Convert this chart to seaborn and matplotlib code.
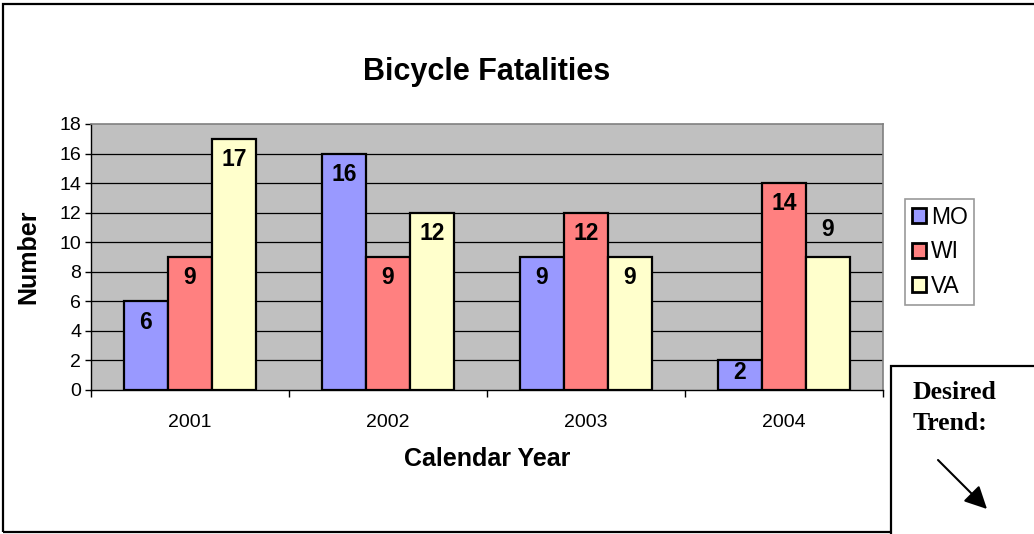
import numpy as np
import pandas as pd
import matplotlib
matplotlib.use("Agg")
import matplotlib.pyplot as plt
import seaborn as sns
from matplotlib.patches import Rectangle, FancyArrowPatch

years  = ["2001", "2002", "2003", "2004"]
states = ["MO", "WI", "VA"]
mo     = [6, 16, 9, 2]
wi     = [9, 9, 12, 14]
va     = [17, 12, 9, 9]
colors = ["#9999FF", "#FF8080", "#FFFFCC"]
y_ticks = list(range(0, 19, 2))

df = pd.DataFrame({
    "year":   years * 3,
    "state":  ["MO"] * 4 + ["WI"] * 4 + ["VA"] * 4,
    "number": mo + wi + va,
})

sns.set_theme(style="white")
plt.rcParams["font.family"] = ["Liberation Sans", "DejaVu Sans"]
plt.rcParams["text.color"] = "black"
plt.rcParams["axes.labelcolor"] = "black"
plt.rcParams["xtick.color"] = "black"
plt.rcParams["ytick.color"] = "black"

W, H = 1034, 534
fig = plt.figure(figsize=(W / 100, H / 100), dpi=100)
ax = fig.add_axes([91 / W, 1 - 390 / H, (883 - 91) / W, (390 - 124) / H])
ax.set_facecolor("#C0C0C0")

sns.barplot(data=df, x="year", y="number", hue="state",
            order=years, hue_order=states, palette=colors,
            width=0.667, edgecolor="black", linewidth=1.6,
            saturation=1, legend=False, ax=ax, zorder=3)

ax.set_ylim(0, 18)
ax.set_xlim(-0.5, 3.5)
ax.set_yticks(y_ticks)
for v in y_ticks[1:-1]:
    ax.axhline(v, color="black", lw=0.9, zorder=1)

# value labels
outside = {("2004", "VA")}
for container, st in zip(ax.containers, states):
    for bar, yr in zip(container, years):
        h = bar.get_height()
        cx = bar.get_x() + bar.get_width() / 2
        if (yr, st) in outside:
            off = 19.5
        elif h < 3:
            off = -8.5
        else:
            off = -15
        ax.annotate(f"{h:.0f}", (cx, h), xytext=(0, off), textcoords="offset points",
                    ha="center", va="center", fontsize=16.5, fontweight="bold", zorder=5)

# spines / ticks
for s in ["top", "right"]:
    ax.spines[s].set_color("#808080")
    ax.spines[s].set_linewidth(1.2)
for s in ["left", "bottom"]:
    ax.spines[s].set_color("black")
    ax.spines[s].set_linewidth(1.0)
ax.tick_params(axis="y", length=4, width=1, direction="out", pad=3,
               labelsize=14, left=True)
ax.tick_params(axis="x", which="major", length=0, pad=17, labelsize=14)
ax.set_xticks(np.arange(-0.5, 4, 1), minor=True)
ax.tick_params(axis="x", which="minor", length=5, width=1, direction="out",
               bottom=True)

ax.set_xlabel("Calendar Year", fontsize=18, fontweight="bold", labelpad=12)
ax.set_ylabel("Number", fontsize=18, fontweight="bold", labelpad=14)
ax.set_title("Bicycle Fatalities", fontsize=22, fontweight="bold", pad=32)

# legend
handles = [Rectangle((0, 0), 1, 1, facecolor=c, edgecolor="black", lw=2) for c in colors]
leg = fig.legend(handles, states, loc="upper left",
                 bbox_to_anchor=(905 / W, 1 - 199 / H), fontsize=16.5,
                 handlelength=0.62, handleheight=0.62, handletextpad=0.2,
                 labelspacing=0.5, borderpad=0.3, fancybox=False,
                 frameon=True, borderaxespad=0)
leg.get_frame().set_edgecolor("#808080")
leg.get_frame().set_linewidth(1.2)

# outer frame
fig.patches.append(Rectangle((3 / W, 2 / H), 1.1, 1 - 6 / H,
                             transform=fig.transFigure, fill=False,
                             edgecolor="black", lw=1.6))

# desired trend box
fig.patches.append(Rectangle((891 / W, -0.05), 0.2, 0.05 + 1 - 366 / H,
                             transform=fig.transFigure, facecolor="white",
                             edgecolor="black", lw=1.6, zorder=4))
fig.text(913 / W, 1 - 381 / H, "Desired\nTrend:", fontsize=18.5, fontweight="bold",
         family=["Liberation Serif", "DejaVu Serif"], ha="left", va="top",
         linespacing=1.45, zorder=5)
fig.patches.append(FancyArrowPatch((938 / W, 1 - 460 / H), (987 / W, 1 - 509 / H),
                                   transform=fig.transFigure, arrowstyle="-|>",
                                   mutation_scale=34, color="black", lw=1.5,
                                   shrinkA=0, shrinkB=0, zorder=5))

fig.savefig("out.png", dpi=100, facecolor="white")
